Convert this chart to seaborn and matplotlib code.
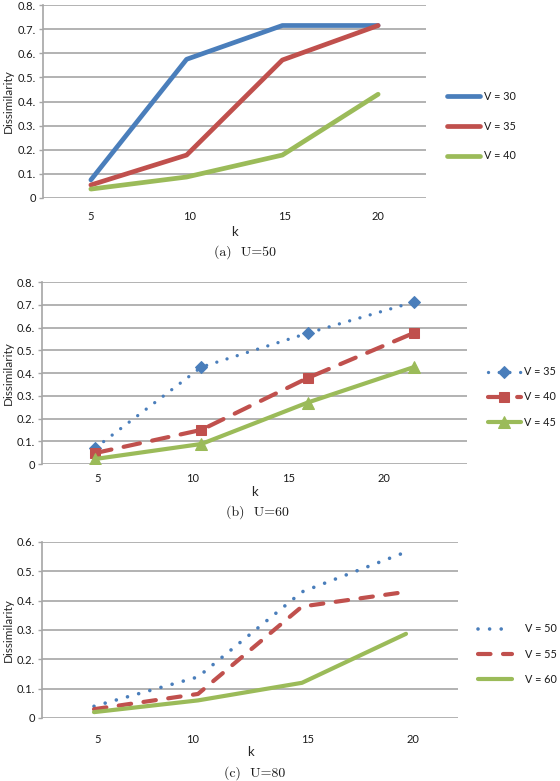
import matplotlib
matplotlib.use("Agg")
import matplotlib.pyplot as plt
import seaborn as sns

# category axis shared by all three panels
k_values = ["5", "10", "15", "20"]
k_index = [0, 1, 2, 3]

# (a) U=50
a_v30 = [0.075, 0.575, 0.715, 0.715]
a_v35 = [0.054, 0.178, 0.572, 0.715]
a_v40 = [0.037, 0.087, 0.178, 0.43]

# (b) U=60
b_v35 = [0.07, 0.426, 0.575, 0.712]
b_v40 = [0.048, 0.15, 0.378, 0.576]
b_v45 = [0.022, 0.088, 0.27, 0.426]

# (c) U=80
c_v50 = [0.04, 0.14, 0.43, 0.566]
c_v55 = [0.03, 0.082, 0.38, 0.43]
c_v60 = [0.02, 0.06, 0.12, 0.287]

yticks_08 = [0, 0.1, 0.2, 0.3, 0.4, 0.5, 0.6, 0.7, 0.8]
ylabels_08 = ["0", "0.1.", "0.2.", "0.3.", "0.4.", "0.5.", "0.6.", "0.7.", "0.8."]
yticks_06 = [0, 0.1, 0.2, 0.3, 0.4, 0.5, 0.6]
ylabels_06 = ["0", "0.1.", "0.2.", "0.3.", "0.4.", "0.5.", "0.6."]

BLUE = "#4a7ebb"
RED = "#c0504d"
GREEN = "#9bbb59"
GRID = "#a6a6a6"

sns.set_theme(style="white")
plt.rcParams["font.family"] = ["Lato", "DejaVu Sans"]
plt.rcParams["text.color"] = "#1a1a1a"

W, H = 560, 781
fig = plt.figure(figsize=(W / 100, H / 100), dpi=100)


def add_axes(left, right, top, bottom):
    return fig.add_axes([left / W, 1 - bottom / H, (right - left) / W, (bottom - top) / H])


def style_axes(ax, yticks, ylabels, xtick_pos, tick_pad, k_y, top, bottom, left, right):
    ax.set_xlim(-0.5, 3.5)
    ax.set_ylim(0, yticks[-1])
    ax.set_yticks(yticks)
    ax.set_yticklabels(ylabels)
    ax.set_xticks(xtick_pos)
    ax.set_xticklabels(k_values)
    ax.grid(axis="y", color=GRID, lw=1.2)
    ax.set_axisbelow(True)
    for s in ["top", "right", "bottom"]:
        ax.spines[s].set_visible(False)
    ax.spines["left"].set_color(GRID)
    ax.spines["left"].set_linewidth(1.2)
    ax.tick_params(axis="y", left=True, length=3, width=1, color=GRID, pad=2,
                   labelsize=8, labelcolor="#1a1a1a")
    ax.tick_params(axis="x", bottom=False, pad=tick_pad, labelsize=8, labelcolor="#1a1a1a")
    ax.set_xlabel("k", fontsize=9.5, va="center")
    ax.xaxis.set_label_coords(0.5, (bottom - k_y) / (bottom - top))
    ax.set_ylabel("Dissimilarity", fontsize=8.5, va="center", ha="center")
    ax.yaxis.set_label_coords((8 - left) / (right - left), 0.5)


def place_legend(ax, x, yc, spacing, textpad, hlen):
    ax.legend(loc="center left", bbox_to_anchor=(x / W, 1 - yc / H),
              bbox_transform=fig.transFigure, frameon=False, fontsize=7.8,
              borderpad=0, borderaxespad=0, handlelength=hlen,
              handletextpad=textpad, labelspacing=spacing, numpoints=1)


def caption(text, x, y):
    fig.text(x / W, 1 - y / H, text, ha="center", va="center",
             family=["cmr10", "DejaVu Serif"], fontsize=10)


round_kw = dict(dash_capstyle="round", solid_capstyle="round", solid_joinstyle="round")

# ---- panel (a)
ax_a = add_axes(43, 426, 5, 198)
sns.lineplot(x=k_index, y=a_v30, ax=ax_a, color=BLUE, lw=3.4, label="V = 30", **round_kw)
sns.lineplot(x=k_index, y=a_v35, ax=ax_a, color=RED, lw=3.4, label="V = 35", **round_kw)
sns.lineplot(x=k_index, y=a_v40, ax=ax_a, color=GREEN, lw=3.4, label="V = 40", **round_kw)
style_axes(ax_a, yticks_08, ylabels_08, [0, 1.03, 2.02, 3.0], 3.5, 232, 5, 198, 43, 426)
place_legend(ax_a, 447, 126, 1.75, 0.45, 3.0)
caption("(a)  U=50", 245, 252)

# ---- panel (b)
ax_b = add_axes(42, 467, 282, 464)
sns.lineplot(x=k_index, y=b_v35, ax=ax_b, color=BLUE, lw=2.4, linestyle=(0, (0.01, 3.2)),
             marker="D", markersize=6.5, markeredgecolor=BLUE, label="V = 35", **round_kw)
sns.lineplot(x=k_index, y=b_v40, ax=ax_b, color=RED, lw=3.0, linestyle=(0, (4, 3)),
             marker="s", markersize=7.5, markeredgecolor=RED, label="V = 40", **round_kw)
sns.lineplot(x=k_index, y=b_v45, ax=ax_b, color=GREEN, lw=3.0,
             marker="^", markersize=8, markeredgecolor=GREEN, label="V = 45", **round_kw)
style_axes(ax_b, yticks_08, ylabels_08, [0.02, 0.92, 1.82, 2.72], 0.8, 492, 282, 464, 42, 467)
place_legend(ax_b, 488, 397, 1.3, 0.35, 3.0)
caption("(b)  U=60", 257, 512)

# ---- panel (c)
ax_c = add_axes(42, 458, 542, 718)
sns.lineplot(x=k_index, y=c_v50, ax=ax_c, color=BLUE, lw=2.6, linestyle=(0, (0.01, 3.2)),
             label="V = 50", **round_kw)
sns.lineplot(x=k_index, y=c_v55, ax=ax_c, color=RED, lw=3.0, linestyle=(0, (3, 3)),
             label="V = 55", **round_kw)
sns.lineplot(x=k_index, y=c_v60, ax=ax_c, color=GREEN, lw=3.0, label="V = 60", **round_kw)
style_axes(ax_c, yticks_06, ylabels_06, [0.03, 0.95, 2.05, 3.07], 5.5, 752, 542, 718, 42, 458)
place_legend(ax_c, 478, 654, 1.3, 1.2, 3.1)
caption("(c)  U=80", 255, 773)

fig.savefig("out.png", dpi=100)
